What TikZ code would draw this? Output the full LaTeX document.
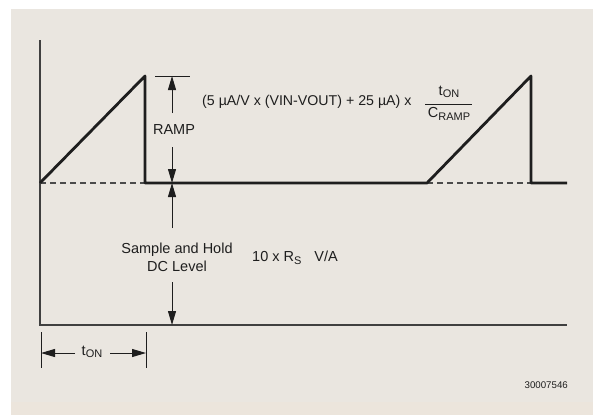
\documentclass[tikz,border=0pt]{standalone}
\usepackage{fontspec}
\setmainfont{Liberation Sans}
\usetikzlibrary{arrows.meta,calc}
\definecolor{bgmain}{HTML}{EAE6E0}
\definecolor{bgband}{HTML}{ECE5DC}
\definecolor{ink}{HTML}{1E1E1E}
\newcommand\subsc[1]{\raisebox{-0.35ex}{\fontsize{11}{12}\selectfont #1}}
\begin{document}
\begin{tikzpicture}[x=1pt,y=-1pt,
  wave/.style={line width=2.8pt, draw=ink, line join=round},
  axisline/.style={line width=1.7pt, draw=ink!85},
  guide/.style={line width=1.2pt, draw=ink!80, dash pattern=on 6pt off 4pt},
  dimline/.style={line width=1pt, draw=ink},
  dimarrow/.style={dimline, -{Triangle[length=14pt,width=8pt]}},
  lbl/.style={font=\fontsize{14.5}{18}\selectfont, text=ink, inner sep=0pt},
  codelbl/.style={font=\fontsize{9.7}{11}\selectfont, text=ink, inner sep=0pt}]
\useasboundingbox (0,0) rectangle (593,415);
\fill[white] (0,0) rectangle (593,415);
\fill[bgmain] (11,9) rectangle (593,415);
\fill[bgband] (11,402) rectangle (593,415);

% axes
\coordinate (ytop) at (40,40);
\coordinate (org) at (40,325);
\coordinate (xend) at (567,325);
\draw[axisline] (ytop) -- (org) -- (xend);

% waveform
\coordinate (o) at (40,183);
\coordinate (p1) at (145,76);
\coordinate (b1) at (145,183);
\coordinate (s2) at (427,183);
\coordinate (p2) at (531,76);
\coordinate (b2) at (531,183);
\coordinate (e) at (567,183);
\draw[guide] (o) -- (b1);
\draw[guide] (s2) -- (b2);
\draw[wave] (o) -- (p1) -- (b1) -- (s2) -- (p2) -- (b2) -- (e);

% RAMP dimension
\coordinate (tk1) at (155,76);
\coordinate (tk2) at (190,76);
\draw[dimline] (tk1) -- (tk2);
\node[lbl] (ramp) at (174,130) {RAMP};
\coordinate (rtop) at (172,76);
\coordinate (rtail1) at (172,113);
\coordinate (rtail2) at (172,147);
\coordinate (rbase) at (172,183);
\draw[dimarrow] (rtail1) -- (rtop);
\draw[dimarrow] (rtail2) -- (rbase);

% Sample and hold dimension
\coordinate (stail1) at (172,228);
\coordinate (stail2) at (172,282);
\coordinate (sbot) at (172,325);
\draw[dimarrow] (stail1) -- (rbase);
\draw[dimarrow] (stail2) -- (sbot);
\node[lbl, align=center] (sh) at (177,257) {Sample and Hold\\DC Level};
\node[lbl, anchor=west] (rs) at (252,258) {10 x R\subsc{S}\hspace{0.9em}V/A};

% formula
\node[lbl, font=\fontsize{14.2}{18}\selectfont, anchor=west] (form) at (202,102) {(5 µA/V x (VIN-VOUT) + 25 µA) x};
\node[lbl] (num) at (449,92) {t\subsc{ON}};
\node[lbl] (den) at (449,114) {C\subsc{RAMP}};
\coordinate (fl) at (425,104);
\coordinate (fr) at (472,104);
\draw[line width=0.8pt, draw=ink] (fl) -- (fr);

% tON dimension
\coordinate (ta1) at (41,332);
\coordinate (ta2) at (41,368);
\coordinate (tb1) at (146,332);
\coordinate (tb2) at (146,368);
\draw[dimline] (ta1) -- (ta2);
\draw[dimline] (tb1) -- (tb2);
\node[lbl] (ton) at (92,352) {t\subsc{ON}};
\coordinate (tl) at (41,353);
\coordinate (tr) at (146,353);
\coordinate (tlt) at (75,353);
\coordinate (trt) at (110,353);
\draw[dimarrow] (tlt) -- (tl);
\draw[dimarrow] (trt) -- (tr);

% figure code
\node[codelbl, anchor=east] (code) at (568,385) {30007546};
\end{tikzpicture}
\end{document}
